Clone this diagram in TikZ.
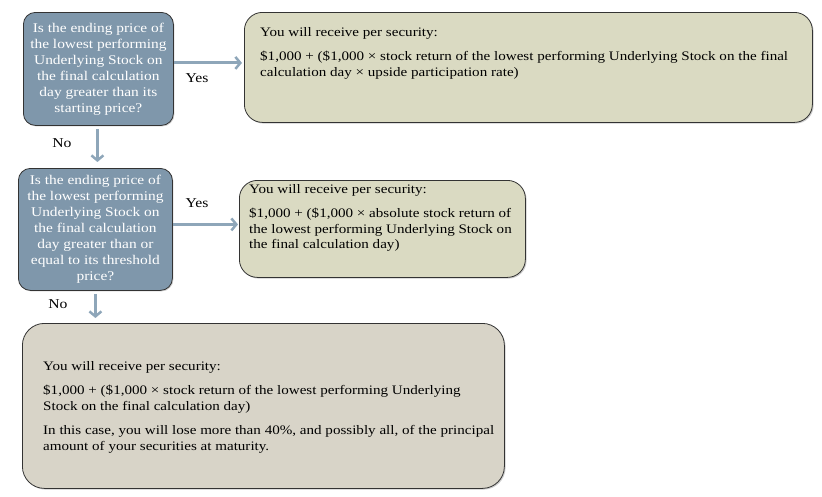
\documentclass[tikz,border=0pt]{standalone}
\usepackage{fontspec}
\setmainfont[FakeStretch=1.16]{Liberation Serif}
\usetikzlibrary{shapes,arrows.meta,positioning,shadows}

\definecolor{askblue}{HTML}{7F97AB}
\definecolor{flowblue}{HTML}{8EA6B9}
\definecolor{payolive}{HTML}{DADAC2}
\definecolor{paygray}{HTML}{D8D4C8}

\begin{document}
\begin{tikzpicture}[
    x=1pt, y=-1pt,
    question/.style={rectangle, draw=black!80, line width=0.8pt, fill=askblue, rounded corners=12pt,
        text=white, align=center, anchor=north west, inner sep=0pt,
        font=\fontsize{13.3}{16}\selectfont,
        drop shadow={shadow xshift=1pt, shadow yshift=-1pt, opacity=0.4}},
    payout/.style={rectangle, draw=black!80, line width=0.8pt, fill=payolive, rounded corners=18pt,
        anchor=north west, inner sep=0pt,
        drop shadow={shadow xshift=1.2pt, shadow yshift=-1.2pt, opacity=0.4}},
    paytext/.style={anchor=north west, inner sep=0pt, align=left,
        font=\fontsize{13}{15.5}\selectfont},
    flow/.style={draw=flowblue, line width=3pt, -{Straight Barb[length=5pt, width=12pt, line width=2.5pt]}},
    lbl/.style={font=\fontsize{13.5}{15}\selectfont, inner sep=0pt}
]
\useasboundingbox (0,0) rectangle (822,496);

% Nodes
\node [question, minimum width=150, minimum height=113] (q1) at (23,12)
    {Is the ending price of\\the lowest performing\\Underlying Stock on\\the final calculation\\day greater than its\\starting price?};
\node [payout, minimum width=568, minimum height=110] (r1) at (244,12) {};
\node [paytext] (r1text) at (260,27)
    {You will receive per security:\\[9pt]
     \$1,000 + (\$1,000 × stock return of the lowest performing Underlying Stock on the final\\
     calculation day × upside participation rate)};

\node [question, minimum width=154, minimum height=122] (q2) at (18,168)
    {Is the ending price of\\the lowest performing\\Underlying Stock on\\the final calculation\\day greater than or\\equal to its threshold\\price?};
\node [payout, minimum width=286, minimum height=97] (r2) at (239,180) {};
\node [paytext] (r2text) at (249,184)
    {You will receive per security:\\[9pt]
     \$1,000 + (\$1,000 × absolute stock return of\\
     the lowest performing Underlying Stock on\\
     the final calculation day)};

\node [payout, fill=paygray, rounded corners=22pt, minimum width=482, minimum height=165] (r3) at (22,323) {};
\node [paytext] (r3text) at (43,361)
    {You will receive per security:\\[9pt]
     \$1,000 + (\$1,000 × stock return of the lowest performing Underlying\\
     Stock on the final calculation day)\\[9pt]
     In this case, you will lose more than 40\%, and possibly all, of the principal\\
     amount of your securities at maturity.};

\node [lbl] (yes1) at (197,78) {Yes};
\node [lbl] (no1) at (62,143) {No};
\node [lbl] (yes2) at (197,203) {Yes};
\node [lbl] (no2) at (58,304) {No};

% Edges
\draw [flow, shorten >=2pt] ([yshift=6pt]q1.east) -- ([yshift=6pt]q1.east -| r1.west);
\draw [flow, shorten <=3pt, shorten >=6pt] ([xshift=-1pt]q1.south) -- ([xshift=-1pt]q1.south |- q2.north);
\draw [flow, shorten >=1pt] ([yshift=5pt]q2.east) -- ([yshift=5pt]q2.east -| r2.west);
\draw [flow, shorten <=3pt, shorten >=5pt] (q2.south) -- (q2.south |- r3.north);

\end{tikzpicture}
\end{document}
